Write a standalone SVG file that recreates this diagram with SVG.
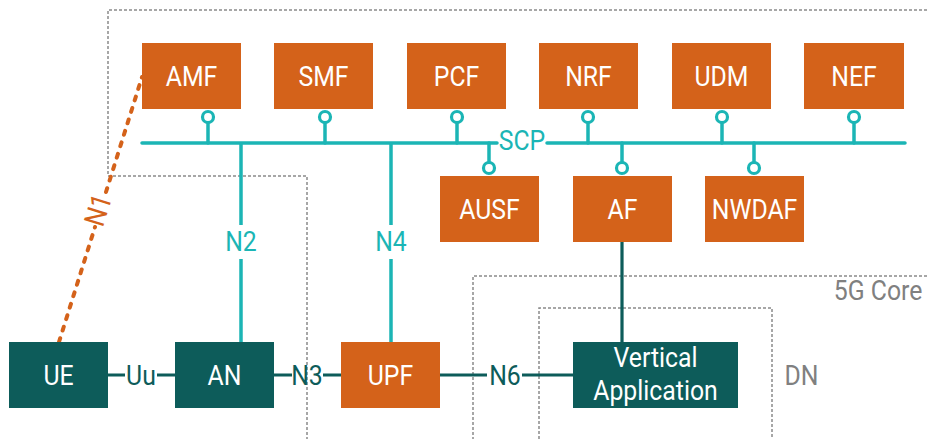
<svg xmlns="http://www.w3.org/2000/svg" width="927" height="439" viewBox="0 0 927 439">
<style>
.nf{fill:#d4621a}
.tl{fill:#0d5c5a}
.sq{transform-box:fill-box;transform-origin:center;transform:scaleX(0.87)}
.bt{font-family:Roboto,"Liberation Sans",sans-serif;font-size:28.5px;fill:#fff;text-anchor:middle}
.lb{font-family:Roboto,"Liberation Sans",sans-serif;font-size:28.5px;text-anchor:middle}
.gt{font-family:Roboto,"Liberation Sans",sans-serif;font-size:28.5px;fill:#808080}
.bd{fill:none;stroke:#8a8a8a;stroke-width:1.5;stroke-dasharray:3 2}
.bus{fill:none;stroke:#1bb5b5;stroke-width:3.5;stroke-linecap:round}
.lol{fill:#fff;stroke:#1bb5b5;stroke-width:3.2}
.dk{fill:none;stroke:#0d5c5a;stroke-width:3.2}
</style>
<g id="boundaries">
<path class="bd" d="M927,10 H108 V176 H307 V439"/>
<path class="bd" d="M927,276 H473 V439"/>
<path class="bd" d="M539,439 V308 H772 V439"/>
<text class="gt sq" x="929" y="300" text-anchor="end">5G Core</text>
<text class="gt sq" x="782" y="385">DN</text>
</g>
<g id="connectors">
<path class="bus" d="M142,143 H497 M547,143 H905"/>
<path class="bus" d="M208,122.5 V143 M325,122.5 V143 M457,122.5 V143 M588,122.5 V143 M722,122.5 V143 M854,122.5 V143"/>
<path class="bus" d="M489,143 V162.5 M622,143 V162.5 M754,143 V162.5"/>
<circle class="lol" cx="208" cy="117" r="5.5"/>
<circle class="lol" cx="325" cy="117" r="5.5"/>
<circle class="lol" cx="457" cy="117" r="5.5"/>
<circle class="lol" cx="588" cy="117" r="5.5"/>
<circle class="lol" cx="722" cy="117" r="5.5"/>
<circle class="lol" cx="854" cy="117" r="5.5"/>
<circle class="lol" cx="489" cy="168" r="5.5"/>
<circle class="lol" cx="622" cy="168" r="5.5"/>
<circle class="lol" cx="754" cy="168" r="5.5"/>
<text class="lb sq" x="522" y="150" fill="#1bb5b5">SCP</text>
<path class="bus" style="stroke-linecap:butt" d="M241,143 V225 M241,259 V342 M391,143 V225 M391,259 V342"/>
<text class="lb sq" x="241" y="251" fill="#1bb5b5">N2</text>
<text class="lb sq" x="391" y="251" fill="#1bb5b5">N4</text>
<path class="dk" d="M108,375 H125 M157,375 H175 M274,375 H292 M323,375 H341 M440,375 H487 M522,375 H573 M622,242 V342"/>
<text class="lb sq" x="141" y="385" fill="#0d5c5a">Uu</text>
<text class="lb sq" x="307" y="385" fill="#0d5c5a">N3</text>
<text class="lb sq" x="505" y="385" fill="#0d5c5a">N6</text>
<path d="M59,342 L95,227 M106,192 L142,77" fill="none" stroke="#d4621a" stroke-width="4" stroke-linecap="round" stroke-dasharray="4 8"/>
<g transform="translate(98,210) rotate(-72.6) scale(0.87,1)"><text class="lb" x="0" y="10" fill="#d4621a">N1</text></g>
</g>
<g id="AMF"><rect class="nf" x="142" y="43" width="99" height="66"/><text class="bt sq" x="191.5" y="86">AMF</text></g>
<g id="SMF"><rect class="nf" x="274" y="43" width="99" height="66"/><text class="bt sq" x="323.5" y="86">SMF</text></g>
<g id="PCF"><rect class="nf" x="407" y="43" width="99" height="66"/><text class="bt sq" x="456.5" y="86">PCF</text></g>
<g id="NRF"><rect class="nf" x="539" y="43" width="99" height="66"/><text class="bt sq" x="588.5" y="86">NRF</text></g>
<g id="UDM"><rect class="nf" x="672" y="43" width="99" height="66"/><text class="bt sq" x="721.5" y="86">UDM</text></g>
<g id="NEF"><rect class="nf" x="804" y="43" width="100" height="66"/><text class="bt sq" x="854" y="86">NEF</text></g>
<g id="AUSF"><rect class="nf" x="440" y="176" width="99" height="66"/><text class="bt sq" x="489.5" y="219">AUSF</text></g>
<g id="AF"><rect class="nf" x="573" y="176" width="99" height="66"/><text class="bt sq" x="622.5" y="219">AF</text></g>
<g id="NWDAF"><rect class="nf" x="705" y="176" width="99" height="66"/><text class="bt sq" x="754.5" y="219">NWDAF</text></g>
<g id="UE"><rect class="tl" x="9" y="342" width="99" height="66"/><text class="bt sq" x="58.5" y="385">UE</text></g>
<g id="AN"><rect class="tl" x="175" y="342" width="99" height="66"/><text class="bt sq" x="224.5" y="385">AN</text></g>
<g id="UPF"><rect class="nf" x="341" y="342" width="99" height="66"/><text class="bt sq" x="390.5" y="385">UPF</text></g>
<g id="VerticalApplication"><rect class="tl" x="573" y="342" width="165" height="66"/><text class="bt sq" x="655.5" y="367">Vertical</text><text class="bt sq" x="655.5" y="400">Application</text></g>
</svg>
